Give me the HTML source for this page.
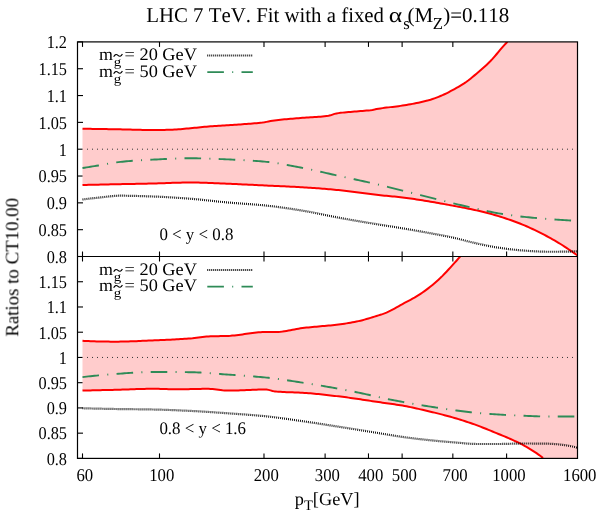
<!DOCTYPE html>
<html><head><meta charset="utf-8"><title>plot</title>
<style>html,body{margin:0;padding:0;background:#fff;}body{width:599px;height:517px;position:relative;overflow:hidden;font-family:"Liberation Serif",serif;}</style></head>
<body>
<svg width="599" height="517" viewBox="0 0 599 517" style="position:absolute;left:0;top:0">
<rect width="599" height="517" fill="#fff"/>
<defs><clipPath id="ct"><rect x="77.5" y="41.9" width="500.0" height="214.6"/></clipPath><clipPath id="cb"><rect x="77.5" y="256.5" width="500.0" height="201.89999999999998"/></clipPath></defs>
<g stroke="#000" stroke-width="1.1" fill="none">
<line x1="82.50" y1="41.9" x2="82.50" y2="46.9"/>
<line x1="82.50" y1="251.5" x2="82.50" y2="261.5"/>
<line x1="82.50" y1="453.4" x2="82.50" y2="458.4"/>
<line x1="159.50" y1="41.9" x2="159.50" y2="46.9"/>
<line x1="159.50" y1="251.5" x2="159.50" y2="261.5"/>
<line x1="159.50" y1="453.4" x2="159.50" y2="458.4"/>
<line x1="263.99" y1="41.9" x2="263.99" y2="46.9"/>
<line x1="263.99" y1="251.5" x2="263.99" y2="261.5"/>
<line x1="263.99" y1="453.4" x2="263.99" y2="458.4"/>
<line x1="325.11" y1="41.9" x2="325.11" y2="46.9"/>
<line x1="325.11" y1="251.5" x2="325.11" y2="261.5"/>
<line x1="325.11" y1="453.4" x2="325.11" y2="458.4"/>
<line x1="368.48" y1="41.9" x2="368.48" y2="46.9"/>
<line x1="368.48" y1="251.5" x2="368.48" y2="261.5"/>
<line x1="368.48" y1="453.4" x2="368.48" y2="458.4"/>
<line x1="402.12" y1="41.9" x2="402.12" y2="46.9"/>
<line x1="402.12" y1="251.5" x2="402.12" y2="261.5"/>
<line x1="402.12" y1="453.4" x2="402.12" y2="458.4"/>
<line x1="452.84" y1="41.9" x2="452.84" y2="46.9"/>
<line x1="452.84" y1="251.5" x2="452.84" y2="261.5"/>
<line x1="452.84" y1="453.4" x2="452.84" y2="458.4"/>
<line x1="506.60" y1="41.9" x2="506.60" y2="46.9"/>
<line x1="506.60" y1="251.5" x2="506.60" y2="261.5"/>
<line x1="506.60" y1="453.4" x2="506.60" y2="458.4"/>
<line x1="577.45" y1="41.9" x2="577.45" y2="46.9"/>
<line x1="577.45" y1="251.5" x2="577.45" y2="261.5"/>
<line x1="577.45" y1="453.4" x2="577.45" y2="458.4"/>
<line x1="77.5" y1="41.90" x2="83.0" y2="41.90"/>
<line x1="77.5" y1="68.72" x2="83.0" y2="68.72"/>
<line x1="77.5" y1="281.74" x2="83.0" y2="281.74"/>
<line x1="77.5" y1="95.55" x2="83.0" y2="95.55"/>
<line x1="77.5" y1="306.98" x2="83.0" y2="306.98"/>
<line x1="77.5" y1="122.38" x2="83.0" y2="122.38"/>
<line x1="77.5" y1="332.21" x2="83.0" y2="332.21"/>
<line x1="77.5" y1="149.20" x2="83.0" y2="149.20"/>
<line x1="77.5" y1="357.45" x2="83.0" y2="357.45"/>
<line x1="77.5" y1="176.03" x2="83.0" y2="176.03"/>
<line x1="77.5" y1="382.69" x2="83.0" y2="382.69"/>
<line x1="77.5" y1="202.85" x2="83.0" y2="202.85"/>
<line x1="77.5" y1="407.92" x2="83.0" y2="407.92"/>
<line x1="77.5" y1="229.68" x2="83.0" y2="229.68"/>
<line x1="77.5" y1="433.16" x2="83.0" y2="433.16"/>
<line x1="77.5" y1="256.50" x2="83.0" y2="256.50"/>
<line x1="77.5" y1="458.40" x2="83.0" y2="458.40"/>
</g>
<path d="M82.50,128.75 L84.50,128.78 L86.50,128.80 L88.50,128.83 L90.50,128.86 L92.50,128.89 L94.50,128.92 L96.50,128.94 L98.50,128.97 L100.50,129.01 L102.50,129.04 L104.50,129.07 L106.50,129.10 L108.50,129.13 L110.50,129.17 L112.50,129.20 L114.50,129.23 L116.50,129.27 L118.50,129.31 L120.50,129.35 L122.50,129.40 L124.50,129.45 L126.50,129.50 L128.50,129.55 L130.50,129.61 L132.50,129.66 L134.50,129.71 L136.50,129.76 L138.50,129.81 L140.50,129.85 L142.50,129.89 L144.50,129.93 L146.50,129.96 L148.50,129.98 L150.50,129.99 L152.50,130.00 L154.50,130.00 L156.50,129.99 L158.50,129.97 L160.50,129.94 L162.50,129.91 L164.50,129.88 L166.50,129.83 L168.50,129.79 L170.50,129.74 L172.50,129.69 L174.50,129.60 L176.50,129.49 L178.50,129.35 L180.50,129.18 L182.50,129.00 L184.50,128.81 L186.50,128.62 L188.50,128.43 L190.50,128.25 L192.50,128.06 L194.50,127.86 L196.50,127.65 L198.50,127.44 L200.50,127.22 L202.50,127.01 L204.50,126.81 L206.50,126.63 L208.50,126.46 L210.50,126.31 L212.50,126.17 L214.50,126.04 L216.50,125.92 L218.50,125.80 L220.50,125.68 L222.50,125.56 L224.50,125.43 L226.50,125.30 L228.50,125.17 L230.50,125.03 L232.50,124.90 L234.50,124.77 L236.50,124.64 L238.50,124.51 L240.50,124.39 L242.50,124.25 L244.50,124.12 L246.50,123.98 L248.50,123.84 L250.50,123.68 L252.50,123.52 L254.50,123.35 L256.50,123.17 L258.50,122.97 L260.50,122.77 L262.50,122.54 L264.50,122.24 L266.50,121.87 L268.50,121.47 L270.50,121.07 L272.50,120.70 L274.50,120.40 L276.50,120.15 L278.50,119.93 L280.50,119.71 L282.50,119.51 L284.50,119.32 L286.50,119.14 L288.50,118.96 L290.50,118.79 L292.50,118.63 L294.50,118.46 L296.50,118.30 L298.50,118.13 L300.50,117.96 L302.50,117.80 L304.50,117.66 L306.50,117.53 L308.50,117.41 L310.50,117.29 L312.50,117.18 L314.50,117.06 L316.50,116.93 L318.50,116.79 L320.50,116.64 L322.50,116.46 L324.50,116.26 L326.50,116.03 L328.50,115.77 L330.50,115.35 L332.50,114.62 L334.50,113.88 L336.50,113.42 L338.50,113.12 L340.50,112.86 L342.50,112.63 L344.50,112.43 L346.50,112.25 L348.50,112.08 L350.50,111.92 L352.50,111.77 L354.50,111.61 L356.50,111.44 L358.50,111.25 L360.50,111.08 L362.50,110.92 L364.50,110.76 L366.50,110.59 L368.50,110.40 L370.50,110.19 L372.50,109.93 L374.50,109.54 L376.50,109.09 L378.50,108.72 L380.50,108.41 L382.50,108.12 L384.50,107.86 L386.50,107.61 L388.50,107.37 L390.50,107.13 L392.50,106.90 L394.50,106.66 L396.50,106.42 L398.50,106.16 L400.50,105.88 L402.50,105.58 L404.50,105.26 L406.50,104.93 L408.50,104.58 L410.50,104.23 L412.50,103.86 L414.50,103.48 L416.50,103.08 L418.50,102.66 L420.50,102.23 L422.50,101.77 L424.50,101.29 L426.50,100.79 L428.50,100.26 L430.50,99.68 L432.50,99.03 L434.50,98.33 L436.50,97.59 L438.50,96.81 L440.50,96.00 L442.50,95.15 L444.50,94.24 L446.50,93.28 L448.50,92.27 L450.50,91.23 L452.50,90.17 L454.50,89.09 L456.50,87.97 L458.50,86.82 L460.50,85.63 L462.50,84.38 L464.50,83.08 L466.50,81.70 L468.50,80.23 L470.50,78.67 L472.50,77.05 L474.50,75.38 L476.50,73.68 L478.50,71.97 L480.50,70.26 L482.50,68.52 L484.50,66.73 L486.50,64.90 L488.50,62.99 L490.50,61.00 L492.50,58.88 L494.50,56.61 L496.50,54.25 L498.50,51.86 L500.50,49.48 L502.50,47.16 L504.50,44.94 L506.50,42.77 L507.40,41.80 L577.50,41.90 L577.50,255.50 L576.50,254.78 L574.50,253.35 L572.50,251.95 L570.50,250.58 L568.50,249.21 L566.50,247.87 L564.50,246.55 L562.50,245.25 L560.50,244.00 L558.50,242.78 L556.50,241.58 L554.50,240.41 L552.50,239.26 L550.50,238.15 L548.50,237.07 L546.50,236.01 L544.50,234.96 L542.50,233.93 L540.50,232.90 L538.50,231.90 L536.50,230.90 L534.50,229.93 L532.50,228.98 L530.50,228.05 L528.50,227.15 L526.50,226.27 L524.50,225.42 L522.50,224.60 L520.50,223.80 L518.50,223.02 L516.50,222.26 L514.50,221.51 L512.50,220.78 L510.50,220.07 L508.50,219.38 L506.50,218.70 L504.50,218.04 L502.50,217.39 L500.50,216.76 L498.50,216.15 L496.50,215.55 L494.50,214.97 L492.50,214.40 L490.50,213.84 L488.50,213.30 L486.50,212.78 L484.50,212.27 L482.50,211.77 L480.50,211.28 L478.50,210.82 L476.50,210.36 L474.50,209.92 L472.50,209.49 L470.50,209.07 L468.50,208.67 L466.50,208.27 L464.50,207.88 L462.50,207.49 L460.50,207.11 L458.50,206.73 L456.50,206.36 L454.50,205.98 L452.50,205.61 L450.50,205.23 L448.50,204.86 L446.50,204.49 L444.50,204.12 L442.50,203.76 L440.50,203.40 L438.50,203.04 L436.50,202.69 L434.50,202.34 L432.50,202.00 L430.50,201.66 L428.50,201.33 L426.50,201.01 L424.50,200.68 L422.50,200.35 L420.50,200.03 L418.50,199.71 L416.50,199.40 L414.50,199.09 L412.50,198.79 L410.50,198.49 L408.50,198.21 L406.50,197.94 L404.50,197.68 L402.50,197.44 L400.50,197.21 L398.50,197.00 L396.50,196.79 L394.50,196.60 L392.50,196.41 L390.50,196.22 L388.50,196.04 L386.50,195.85 L384.50,195.66 L382.50,195.47 L380.50,195.27 L378.50,195.05 L376.50,194.83 L374.50,194.60 L372.50,194.35 L370.50,194.10 L368.50,193.84 L366.50,193.57 L364.50,193.30 L362.50,193.03 L360.50,192.76 L358.50,192.49 L356.50,192.22 L354.50,191.95 L352.50,191.69 L350.50,191.43 L348.50,191.19 L346.50,190.95 L344.50,190.72 L342.50,190.50 L340.50,190.30 L338.50,190.11 L336.50,189.92 L334.50,189.73 L332.50,189.55 L330.50,189.37 L328.50,189.19 L326.50,189.02 L324.50,188.85 L322.50,188.68 L320.50,188.52 L318.50,188.37 L316.50,188.21 L314.50,188.07 L312.50,187.92 L310.50,187.78 L308.50,187.65 L306.50,187.52 L304.50,187.39 L302.50,187.27 L300.50,187.15 L298.50,187.04 L296.50,186.93 L294.50,186.83 L292.50,186.73 L290.50,186.63 L288.50,186.54 L286.50,186.44 L284.50,186.35 L282.50,186.26 L280.50,186.17 L278.50,186.08 L276.50,186.00 L274.50,185.91 L272.50,185.82 L270.50,185.73 L268.50,185.64 L266.50,185.55 L264.50,185.45 L262.50,185.36 L260.50,185.26 L258.50,185.16 L256.50,185.06 L254.50,184.97 L252.50,184.87 L250.50,184.77 L248.50,184.67 L246.50,184.57 L244.50,184.48 L242.50,184.38 L240.50,184.29 L238.50,184.20 L236.50,184.11 L234.50,184.02 L232.50,183.93 L230.50,183.85 L228.50,183.77 L226.50,183.69 L224.50,183.61 L222.50,183.52 L220.50,183.43 L218.50,183.34 L216.50,183.25 L214.50,183.17 L212.50,183.08 L210.50,182.99 L208.50,182.91 L206.50,182.84 L204.50,182.77 L202.50,182.70 L200.50,182.64 L198.50,182.59 L196.50,182.55 L194.50,182.52 L192.50,182.51 L190.50,182.50 L188.50,182.51 L186.50,182.52 L184.50,182.55 L182.50,182.59 L180.50,182.63 L178.50,182.68 L176.50,182.74 L174.50,182.80 L172.50,182.87 L170.50,182.94 L168.50,183.01 L166.50,183.08 L164.50,183.15 L162.50,183.22 L160.50,183.29 L158.50,183.35 L156.50,183.41 L154.50,183.46 L152.50,183.51 L150.50,183.56 L148.50,183.60 L146.50,183.64 L144.50,183.68 L142.50,183.72 L140.50,183.76 L138.50,183.80 L136.50,183.84 L134.50,183.88 L132.50,183.92 L130.50,183.95 L128.50,183.99 L126.50,184.03 L124.50,184.07 L122.50,184.11 L120.50,184.15 L118.50,184.19 L116.50,184.23 L114.50,184.27 L112.50,184.31 L110.50,184.36 L108.50,184.40 L106.50,184.45 L104.50,184.49 L102.50,184.53 L100.50,184.58 L98.50,184.63 L96.50,184.67 L94.50,184.72 L92.50,184.76 L90.50,184.81 L88.50,184.86 L86.50,184.90 L84.50,184.95 L82.50,185.00Z" fill="#ffcccc"/>
<path d="M82.50,340.80 L84.50,340.90 L86.50,341.00 L88.50,341.09 L90.50,341.17 L92.50,341.25 L94.50,341.32 L96.50,341.38 L98.50,341.43 L100.50,341.48 L102.50,341.52 L104.50,341.56 L106.50,341.59 L108.50,341.61 L110.50,341.63 L112.50,341.64 L114.50,341.65 L116.50,341.65 L118.50,341.64 L120.50,341.61 L122.50,341.58 L124.50,341.54 L126.50,341.48 L128.50,341.42 L130.50,341.36 L132.50,341.29 L134.50,341.21 L136.50,341.13 L138.50,341.04 L140.50,340.95 L142.50,340.86 L144.50,340.77 L146.50,340.68 L148.50,340.59 L150.50,340.51 L152.50,340.42 L154.50,340.34 L156.50,340.26 L158.50,340.17 L160.50,340.09 L162.50,340.00 L164.50,339.91 L166.50,339.82 L168.50,339.72 L170.50,339.63 L172.50,339.53 L174.50,339.42 L176.50,339.31 L178.50,339.20 L180.50,339.08 L182.50,338.96 L184.50,338.83 L186.50,338.69 L188.50,338.55 L190.50,338.40 L192.50,338.22 L194.50,337.98 L196.50,337.72 L198.50,337.43 L200.50,337.15 L202.50,336.89 L204.50,336.66 L206.50,336.48 L208.50,336.38 L210.50,336.31 L212.50,336.25 L214.50,336.21 L216.50,336.17 L218.50,336.13 L220.50,336.10 L222.50,336.06 L224.50,336.01 L226.50,335.95 L228.50,335.88 L230.50,335.77 L232.50,335.61 L234.50,335.42 L236.50,335.20 L238.50,334.95 L240.50,334.68 L242.50,334.39 L244.50,334.10 L246.50,333.81 L248.50,333.52 L250.50,333.24 L252.50,332.97 L254.50,332.72 L256.50,332.50 L258.50,332.32 L260.50,332.17 L262.50,332.06 L264.50,332.01 L266.50,332.00 L268.50,332.00 L270.50,332.00 L272.50,332.00 L274.50,332.00 L276.50,331.99 L278.50,331.90 L280.50,331.74 L282.50,331.51 L284.50,331.23 L286.50,330.91 L288.50,330.55 L290.50,330.17 L292.50,329.78 L294.50,329.40 L296.50,329.02 L298.50,328.66 L300.50,328.34 L302.50,328.06 L304.50,327.82 L306.50,327.60 L308.50,327.39 L310.50,327.19 L312.50,327.00 L314.50,326.82 L316.50,326.64 L318.50,326.46 L320.50,326.28 L322.50,326.11 L324.50,325.93 L326.50,325.75 L328.50,325.57 L330.50,325.38 L332.50,325.17 L334.50,324.96 L336.50,324.74 L338.50,324.50 L340.50,324.25 L342.50,323.98 L344.50,323.69 L346.50,323.38 L348.50,323.06 L350.50,322.71 L352.50,322.35 L354.50,321.97 L356.50,321.56 L358.50,321.14 L360.50,320.68 L362.50,320.18 L364.50,319.64 L366.50,319.07 L368.50,318.47 L370.50,317.86 L372.50,317.23 L374.50,316.60 L376.50,315.97 L378.50,315.34 L380.50,314.73 L382.50,314.08 L384.50,313.38 L386.50,312.59 L388.50,311.69 L390.50,310.70 L392.50,309.64 L394.50,308.54 L396.50,307.40 L398.50,306.26 L400.50,305.12 L402.50,304.02 L404.50,302.96 L406.50,301.91 L408.50,300.87 L410.50,299.82 L412.50,298.73 L414.50,297.59 L416.50,296.39 L418.50,295.14 L420.50,293.83 L422.50,292.48 L424.50,291.08 L426.50,289.62 L428.50,288.12 L430.50,286.55 L432.50,284.92 L434.50,283.23 L436.50,281.47 L438.50,279.66 L440.50,277.80 L442.50,275.85 L444.50,273.81 L446.50,271.70 L448.50,269.53 L450.50,267.34 L452.50,265.15 L454.50,262.95 L456.50,260.71 L458.50,258.45 L460.20,256.50 L577.50,256.50 L577.50,458.40 L543.00,458.00 L542.50,457.61 L540.50,456.07 L538.50,454.59 L536.50,453.18 L534.50,451.84 L532.50,450.55 L530.50,449.31 L528.50,448.11 L526.50,446.95 L524.50,445.82 L522.50,444.73 L520.50,443.69 L518.50,442.68 L516.50,441.72 L514.50,440.79 L512.50,439.88 L510.50,438.99 L508.50,438.13 L506.50,437.27 L504.50,436.43 L502.50,435.60 L500.50,434.78 L498.50,433.96 L496.50,433.13 L494.50,432.31 L492.50,431.48 L490.50,430.66 L488.50,429.85 L486.50,429.04 L484.50,428.24 L482.50,427.45 L480.50,426.67 L478.50,425.91 L476.50,425.16 L474.50,424.43 L472.50,423.72 L470.50,423.03 L468.50,422.35 L466.50,421.68 L464.50,421.02 L462.50,420.37 L460.50,419.74 L458.50,419.13 L456.50,418.52 L454.50,417.93 L452.50,417.36 L450.50,416.80 L448.50,416.24 L446.50,415.70 L444.50,415.17 L442.50,414.65 L440.50,414.14 L438.50,413.64 L436.50,413.14 L434.50,412.65 L432.50,412.17 L430.50,411.69 L428.50,411.22 L426.50,410.75 L424.50,410.28 L422.50,409.81 L420.50,409.35 L418.50,408.89 L416.50,408.44 L414.50,408.00 L412.50,407.56 L410.50,407.14 L408.50,406.74 L406.50,406.34 L404.50,405.97 L402.50,405.61 L400.50,405.27 L398.50,404.95 L396.50,404.64 L394.50,404.34 L392.50,404.04 L390.50,403.76 L388.50,403.48 L386.50,403.20 L384.50,402.92 L382.50,402.64 L380.50,402.36 L378.50,402.07 L376.50,401.78 L374.50,401.48 L372.50,401.18 L370.50,400.88 L368.50,400.58 L366.50,400.27 L364.50,399.97 L362.50,399.66 L360.50,399.36 L358.50,399.06 L356.50,398.76 L354.50,398.47 L352.50,398.18 L350.50,397.90 L348.50,397.63 L346.50,397.36 L344.50,397.10 L342.50,396.84 L340.50,396.60 L338.50,396.36 L336.50,396.12 L334.50,395.89 L332.50,395.65 L330.50,395.42 L328.50,395.19 L326.50,394.96 L324.50,394.74 L322.50,394.52 L320.50,394.31 L318.50,394.10 L316.50,393.90 L314.50,393.71 L312.50,393.53 L310.50,393.36 L308.50,393.19 L306.50,393.04 L304.50,392.90 L302.50,392.77 L300.50,392.66 L298.50,392.56 L296.50,392.48 L294.50,392.40 L292.50,392.33 L290.50,392.27 L288.50,392.20 L286.50,392.13 L284.50,392.05 L282.50,391.95 L280.50,391.85 L278.50,391.73 L276.50,391.58 L274.50,391.38 L272.50,390.94 L270.50,390.39 L268.50,389.88 L266.50,389.55 L264.50,389.50 L262.50,389.52 L260.50,389.55 L258.50,389.60 L256.50,389.66 L254.50,389.73 L252.50,389.80 L250.50,389.89 L248.50,389.97 L246.50,390.06 L244.50,390.15 L242.50,390.23 L240.50,390.31 L238.50,390.39 L236.50,390.46 L234.50,390.51 L232.50,390.56 L230.50,390.59 L228.50,390.60 L226.50,390.57 L224.50,390.45 L222.50,390.27 L220.50,390.03 L218.50,389.77 L216.50,389.50 L214.50,389.25 L212.50,389.03 L210.50,388.88 L208.50,388.80 L206.50,388.80 L204.50,388.82 L202.50,388.84 L200.50,388.88 L198.50,388.92 L196.50,388.96 L194.50,389.01 L192.50,389.06 L190.50,389.11 L188.50,389.16 L186.50,389.20 L184.50,389.24 L182.50,389.27 L180.50,389.29 L178.50,389.30 L176.50,389.29 L174.50,389.27 L172.50,389.24 L170.50,389.19 L168.50,389.14 L166.50,389.08 L164.50,389.02 L162.50,388.96 L160.50,388.91 L158.50,388.86 L156.50,388.83 L154.50,388.81 L152.50,388.80 L150.50,388.81 L148.50,388.83 L146.50,388.86 L144.50,388.89 L142.50,388.94 L140.50,388.99 L138.50,389.05 L136.50,389.11 L134.50,389.17 L132.50,389.24 L130.50,389.31 L128.50,389.38 L126.50,389.45 L124.50,389.52 L122.50,389.59 L120.50,389.66 L118.50,389.72 L116.50,389.77 L114.50,389.83 L112.50,389.88 L110.50,389.93 L108.50,389.98 L106.50,390.03 L104.50,390.07 L102.50,390.12 L100.50,390.17 L98.50,390.22 L96.50,390.27 L94.50,390.32 L92.50,390.37 L90.50,390.41 L88.50,390.46 L86.50,390.51 L84.50,390.55 L82.50,390.60Z" fill="#ffcccc"/>
<line x1="87" y1="149.20" x2="577.5" y2="149.20" stroke="#333" stroke-width="1" stroke-dasharray="1 4"/>
<line x1="87" y1="357.45" x2="577.5" y2="357.45" stroke="#333" stroke-width="1" stroke-dasharray="1 4"/>
<path d="M82.50,128.75 L84.50,128.78 L86.50,128.80 L88.50,128.83 L90.50,128.86 L92.50,128.89 L94.50,128.92 L96.50,128.94 L98.50,128.97 L100.50,129.01 L102.50,129.04 L104.50,129.07 L106.50,129.10 L108.50,129.13 L110.50,129.17 L112.50,129.20 L114.50,129.23 L116.50,129.27 L118.50,129.31 L120.50,129.35 L122.50,129.40 L124.50,129.45 L126.50,129.50 L128.50,129.55 L130.50,129.61 L132.50,129.66 L134.50,129.71 L136.50,129.76 L138.50,129.81 L140.50,129.85 L142.50,129.89 L144.50,129.93 L146.50,129.96 L148.50,129.98 L150.50,129.99 L152.50,130.00 L154.50,130.00 L156.50,129.99 L158.50,129.97 L160.50,129.94 L162.50,129.91 L164.50,129.88 L166.50,129.83 L168.50,129.79 L170.50,129.74 L172.50,129.69 L174.50,129.60 L176.50,129.49 L178.50,129.35 L180.50,129.18 L182.50,129.00 L184.50,128.81 L186.50,128.62 L188.50,128.43 L190.50,128.25 L192.50,128.06 L194.50,127.86 L196.50,127.65 L198.50,127.44 L200.50,127.22 L202.50,127.01 L204.50,126.81 L206.50,126.63 L208.50,126.46 L210.50,126.31 L212.50,126.17 L214.50,126.04 L216.50,125.92 L218.50,125.80 L220.50,125.68 L222.50,125.56 L224.50,125.43 L226.50,125.30 L228.50,125.17 L230.50,125.03 L232.50,124.90 L234.50,124.77 L236.50,124.64 L238.50,124.51 L240.50,124.39 L242.50,124.25 L244.50,124.12 L246.50,123.98 L248.50,123.84 L250.50,123.68 L252.50,123.52 L254.50,123.35 L256.50,123.17 L258.50,122.97 L260.50,122.77 L262.50,122.54 L264.50,122.24 L266.50,121.87 L268.50,121.47 L270.50,121.07 L272.50,120.70 L274.50,120.40 L276.50,120.15 L278.50,119.93 L280.50,119.71 L282.50,119.51 L284.50,119.32 L286.50,119.14 L288.50,118.96 L290.50,118.79 L292.50,118.63 L294.50,118.46 L296.50,118.30 L298.50,118.13 L300.50,117.96 L302.50,117.80 L304.50,117.66 L306.50,117.53 L308.50,117.41 L310.50,117.29 L312.50,117.18 L314.50,117.06 L316.50,116.93 L318.50,116.79 L320.50,116.64 L322.50,116.46 L324.50,116.26 L326.50,116.03 L328.50,115.77 L330.50,115.35 L332.50,114.62 L334.50,113.88 L336.50,113.42 L338.50,113.12 L340.50,112.86 L342.50,112.63 L344.50,112.43 L346.50,112.25 L348.50,112.08 L350.50,111.92 L352.50,111.77 L354.50,111.61 L356.50,111.44 L358.50,111.25 L360.50,111.08 L362.50,110.92 L364.50,110.76 L366.50,110.59 L368.50,110.40 L370.50,110.19 L372.50,109.93 L374.50,109.54 L376.50,109.09 L378.50,108.72 L380.50,108.41 L382.50,108.12 L384.50,107.86 L386.50,107.61 L388.50,107.37 L390.50,107.13 L392.50,106.90 L394.50,106.66 L396.50,106.42 L398.50,106.16 L400.50,105.88 L402.50,105.58 L404.50,105.26 L406.50,104.93 L408.50,104.58 L410.50,104.23 L412.50,103.86 L414.50,103.48 L416.50,103.08 L418.50,102.66 L420.50,102.23 L422.50,101.77 L424.50,101.29 L426.50,100.79 L428.50,100.26 L430.50,99.68 L432.50,99.03 L434.50,98.33 L436.50,97.59 L438.50,96.81 L440.50,96.00 L442.50,95.15 L444.50,94.24 L446.50,93.28 L448.50,92.27 L450.50,91.23 L452.50,90.17 L454.50,89.09 L456.50,87.97 L458.50,86.82 L460.50,85.63 L462.50,84.38 L464.50,83.08 L466.50,81.70 L468.50,80.23 L470.50,78.67 L472.50,77.05 L474.50,75.38 L476.50,73.68 L478.50,71.97 L480.50,70.26 L482.50,68.52 L484.50,66.73 L486.50,64.90 L488.50,62.99 L490.50,61.00 L492.50,58.88 L494.50,56.61 L496.50,54.25 L498.50,51.86 L500.50,49.48 L502.50,47.16 L504.50,44.94 L506.50,42.77 L507.40,41.80" fill="none" stroke="#ff0000" stroke-width="2" stroke-linejoin="round" clip-path="url(#ct)"/>
<path d="M82.50,185.00 L84.50,184.95 L86.50,184.90 L88.50,184.86 L90.50,184.81 L92.50,184.76 L94.50,184.72 L96.50,184.67 L98.50,184.63 L100.50,184.58 L102.50,184.53 L104.50,184.49 L106.50,184.45 L108.50,184.40 L110.50,184.36 L112.50,184.31 L114.50,184.27 L116.50,184.23 L118.50,184.19 L120.50,184.15 L122.50,184.11 L124.50,184.07 L126.50,184.03 L128.50,183.99 L130.50,183.95 L132.50,183.92 L134.50,183.88 L136.50,183.84 L138.50,183.80 L140.50,183.76 L142.50,183.72 L144.50,183.68 L146.50,183.64 L148.50,183.60 L150.50,183.56 L152.50,183.51 L154.50,183.46 L156.50,183.41 L158.50,183.35 L160.50,183.29 L162.50,183.22 L164.50,183.15 L166.50,183.08 L168.50,183.01 L170.50,182.94 L172.50,182.87 L174.50,182.80 L176.50,182.74 L178.50,182.68 L180.50,182.63 L182.50,182.59 L184.50,182.55 L186.50,182.52 L188.50,182.51 L190.50,182.50 L192.50,182.51 L194.50,182.52 L196.50,182.55 L198.50,182.59 L200.50,182.64 L202.50,182.70 L204.50,182.77 L206.50,182.84 L208.50,182.91 L210.50,182.99 L212.50,183.08 L214.50,183.17 L216.50,183.25 L218.50,183.34 L220.50,183.43 L222.50,183.52 L224.50,183.61 L226.50,183.69 L228.50,183.77 L230.50,183.85 L232.50,183.93 L234.50,184.02 L236.50,184.11 L238.50,184.20 L240.50,184.29 L242.50,184.38 L244.50,184.48 L246.50,184.57 L248.50,184.67 L250.50,184.77 L252.50,184.87 L254.50,184.97 L256.50,185.06 L258.50,185.16 L260.50,185.26 L262.50,185.36 L264.50,185.45 L266.50,185.55 L268.50,185.64 L270.50,185.73 L272.50,185.82 L274.50,185.91 L276.50,186.00 L278.50,186.08 L280.50,186.17 L282.50,186.26 L284.50,186.35 L286.50,186.44 L288.50,186.54 L290.50,186.63 L292.50,186.73 L294.50,186.83 L296.50,186.93 L298.50,187.04 L300.50,187.15 L302.50,187.27 L304.50,187.39 L306.50,187.52 L308.50,187.65 L310.50,187.78 L312.50,187.92 L314.50,188.07 L316.50,188.21 L318.50,188.37 L320.50,188.52 L322.50,188.68 L324.50,188.85 L326.50,189.02 L328.50,189.19 L330.50,189.37 L332.50,189.55 L334.50,189.73 L336.50,189.92 L338.50,190.11 L340.50,190.30 L342.50,190.50 L344.50,190.72 L346.50,190.95 L348.50,191.19 L350.50,191.43 L352.50,191.69 L354.50,191.95 L356.50,192.22 L358.50,192.49 L360.50,192.76 L362.50,193.03 L364.50,193.30 L366.50,193.57 L368.50,193.84 L370.50,194.10 L372.50,194.35 L374.50,194.60 L376.50,194.83 L378.50,195.05 L380.50,195.27 L382.50,195.47 L384.50,195.66 L386.50,195.85 L388.50,196.04 L390.50,196.22 L392.50,196.41 L394.50,196.60 L396.50,196.79 L398.50,197.00 L400.50,197.21 L402.50,197.44 L404.50,197.68 L406.50,197.94 L408.50,198.21 L410.50,198.49 L412.50,198.79 L414.50,199.09 L416.50,199.40 L418.50,199.71 L420.50,200.03 L422.50,200.35 L424.50,200.68 L426.50,201.01 L428.50,201.33 L430.50,201.66 L432.50,202.00 L434.50,202.34 L436.50,202.69 L438.50,203.04 L440.50,203.40 L442.50,203.76 L444.50,204.12 L446.50,204.49 L448.50,204.86 L450.50,205.23 L452.50,205.61 L454.50,205.98 L456.50,206.36 L458.50,206.73 L460.50,207.11 L462.50,207.49 L464.50,207.88 L466.50,208.27 L468.50,208.67 L470.50,209.07 L472.50,209.49 L474.50,209.92 L476.50,210.36 L478.50,210.82 L480.50,211.28 L482.50,211.77 L484.50,212.27 L486.50,212.78 L488.50,213.30 L490.50,213.84 L492.50,214.40 L494.50,214.97 L496.50,215.55 L498.50,216.15 L500.50,216.76 L502.50,217.39 L504.50,218.04 L506.50,218.70 L508.50,219.38 L510.50,220.07 L512.50,220.78 L514.50,221.51 L516.50,222.26 L518.50,223.02 L520.50,223.80 L522.50,224.60 L524.50,225.42 L526.50,226.27 L528.50,227.15 L530.50,228.05 L532.50,228.98 L534.50,229.93 L536.50,230.90 L538.50,231.90 L540.50,232.90 L542.50,233.93 L544.50,234.96 L546.50,236.01 L548.50,237.07 L550.50,238.15 L552.50,239.26 L554.50,240.41 L556.50,241.58 L558.50,242.78 L560.50,244.00 L562.50,245.25 L564.50,246.55 L566.50,247.87 L568.50,249.21 L570.50,250.58 L572.50,251.95 L574.50,253.35 L576.50,254.78 L577.50,255.50" fill="none" stroke="#ff0000" stroke-width="2" stroke-linejoin="round" clip-path="url(#ct)"/>
<path d="M82.50,340.80 L84.50,340.90 L86.50,341.00 L88.50,341.09 L90.50,341.17 L92.50,341.25 L94.50,341.32 L96.50,341.38 L98.50,341.43 L100.50,341.48 L102.50,341.52 L104.50,341.56 L106.50,341.59 L108.50,341.61 L110.50,341.63 L112.50,341.64 L114.50,341.65 L116.50,341.65 L118.50,341.64 L120.50,341.61 L122.50,341.58 L124.50,341.54 L126.50,341.48 L128.50,341.42 L130.50,341.36 L132.50,341.29 L134.50,341.21 L136.50,341.13 L138.50,341.04 L140.50,340.95 L142.50,340.86 L144.50,340.77 L146.50,340.68 L148.50,340.59 L150.50,340.51 L152.50,340.42 L154.50,340.34 L156.50,340.26 L158.50,340.17 L160.50,340.09 L162.50,340.00 L164.50,339.91 L166.50,339.82 L168.50,339.72 L170.50,339.63 L172.50,339.53 L174.50,339.42 L176.50,339.31 L178.50,339.20 L180.50,339.08 L182.50,338.96 L184.50,338.83 L186.50,338.69 L188.50,338.55 L190.50,338.40 L192.50,338.22 L194.50,337.98 L196.50,337.72 L198.50,337.43 L200.50,337.15 L202.50,336.89 L204.50,336.66 L206.50,336.48 L208.50,336.38 L210.50,336.31 L212.50,336.25 L214.50,336.21 L216.50,336.17 L218.50,336.13 L220.50,336.10 L222.50,336.06 L224.50,336.01 L226.50,335.95 L228.50,335.88 L230.50,335.77 L232.50,335.61 L234.50,335.42 L236.50,335.20 L238.50,334.95 L240.50,334.68 L242.50,334.39 L244.50,334.10 L246.50,333.81 L248.50,333.52 L250.50,333.24 L252.50,332.97 L254.50,332.72 L256.50,332.50 L258.50,332.32 L260.50,332.17 L262.50,332.06 L264.50,332.01 L266.50,332.00 L268.50,332.00 L270.50,332.00 L272.50,332.00 L274.50,332.00 L276.50,331.99 L278.50,331.90 L280.50,331.74 L282.50,331.51 L284.50,331.23 L286.50,330.91 L288.50,330.55 L290.50,330.17 L292.50,329.78 L294.50,329.40 L296.50,329.02 L298.50,328.66 L300.50,328.34 L302.50,328.06 L304.50,327.82 L306.50,327.60 L308.50,327.39 L310.50,327.19 L312.50,327.00 L314.50,326.82 L316.50,326.64 L318.50,326.46 L320.50,326.28 L322.50,326.11 L324.50,325.93 L326.50,325.75 L328.50,325.57 L330.50,325.38 L332.50,325.17 L334.50,324.96 L336.50,324.74 L338.50,324.50 L340.50,324.25 L342.50,323.98 L344.50,323.69 L346.50,323.38 L348.50,323.06 L350.50,322.71 L352.50,322.35 L354.50,321.97 L356.50,321.56 L358.50,321.14 L360.50,320.68 L362.50,320.18 L364.50,319.64 L366.50,319.07 L368.50,318.47 L370.50,317.86 L372.50,317.23 L374.50,316.60 L376.50,315.97 L378.50,315.34 L380.50,314.73 L382.50,314.08 L384.50,313.38 L386.50,312.59 L388.50,311.69 L390.50,310.70 L392.50,309.64 L394.50,308.54 L396.50,307.40 L398.50,306.26 L400.50,305.12 L402.50,304.02 L404.50,302.96 L406.50,301.91 L408.50,300.87 L410.50,299.82 L412.50,298.73 L414.50,297.59 L416.50,296.39 L418.50,295.14 L420.50,293.83 L422.50,292.48 L424.50,291.08 L426.50,289.62 L428.50,288.12 L430.50,286.55 L432.50,284.92 L434.50,283.23 L436.50,281.47 L438.50,279.66 L440.50,277.80 L442.50,275.85 L444.50,273.81 L446.50,271.70 L448.50,269.53 L450.50,267.34 L452.50,265.15 L454.50,262.95 L456.50,260.71 L458.50,258.45 L460.20,256.50" fill="none" stroke="#ff0000" stroke-width="2" stroke-linejoin="round" clip-path="url(#cb)"/>
<path d="M82.50,390.60 L84.50,390.55 L86.50,390.51 L88.50,390.46 L90.50,390.41 L92.50,390.37 L94.50,390.32 L96.50,390.27 L98.50,390.22 L100.50,390.17 L102.50,390.12 L104.50,390.07 L106.50,390.03 L108.50,389.98 L110.50,389.93 L112.50,389.88 L114.50,389.83 L116.50,389.77 L118.50,389.72 L120.50,389.66 L122.50,389.59 L124.50,389.52 L126.50,389.45 L128.50,389.38 L130.50,389.31 L132.50,389.24 L134.50,389.17 L136.50,389.11 L138.50,389.05 L140.50,388.99 L142.50,388.94 L144.50,388.89 L146.50,388.86 L148.50,388.83 L150.50,388.81 L152.50,388.80 L154.50,388.81 L156.50,388.83 L158.50,388.86 L160.50,388.91 L162.50,388.96 L164.50,389.02 L166.50,389.08 L168.50,389.14 L170.50,389.19 L172.50,389.24 L174.50,389.27 L176.50,389.29 L178.50,389.30 L180.50,389.29 L182.50,389.27 L184.50,389.24 L186.50,389.20 L188.50,389.16 L190.50,389.11 L192.50,389.06 L194.50,389.01 L196.50,388.96 L198.50,388.92 L200.50,388.88 L202.50,388.84 L204.50,388.82 L206.50,388.80 L208.50,388.80 L210.50,388.88 L212.50,389.03 L214.50,389.25 L216.50,389.50 L218.50,389.77 L220.50,390.03 L222.50,390.27 L224.50,390.45 L226.50,390.57 L228.50,390.60 L230.50,390.59 L232.50,390.56 L234.50,390.51 L236.50,390.46 L238.50,390.39 L240.50,390.31 L242.50,390.23 L244.50,390.15 L246.50,390.06 L248.50,389.97 L250.50,389.89 L252.50,389.80 L254.50,389.73 L256.50,389.66 L258.50,389.60 L260.50,389.55 L262.50,389.52 L264.50,389.50 L266.50,389.55 L268.50,389.88 L270.50,390.39 L272.50,390.94 L274.50,391.38 L276.50,391.58 L278.50,391.73 L280.50,391.85 L282.50,391.95 L284.50,392.05 L286.50,392.13 L288.50,392.20 L290.50,392.27 L292.50,392.33 L294.50,392.40 L296.50,392.48 L298.50,392.56 L300.50,392.66 L302.50,392.77 L304.50,392.90 L306.50,393.04 L308.50,393.19 L310.50,393.36 L312.50,393.53 L314.50,393.71 L316.50,393.90 L318.50,394.10 L320.50,394.31 L322.50,394.52 L324.50,394.74 L326.50,394.96 L328.50,395.19 L330.50,395.42 L332.50,395.65 L334.50,395.89 L336.50,396.12 L338.50,396.36 L340.50,396.60 L342.50,396.84 L344.50,397.10 L346.50,397.36 L348.50,397.63 L350.50,397.90 L352.50,398.18 L354.50,398.47 L356.50,398.76 L358.50,399.06 L360.50,399.36 L362.50,399.66 L364.50,399.97 L366.50,400.27 L368.50,400.58 L370.50,400.88 L372.50,401.18 L374.50,401.48 L376.50,401.78 L378.50,402.07 L380.50,402.36 L382.50,402.64 L384.50,402.92 L386.50,403.20 L388.50,403.48 L390.50,403.76 L392.50,404.04 L394.50,404.34 L396.50,404.64 L398.50,404.95 L400.50,405.27 L402.50,405.61 L404.50,405.97 L406.50,406.34 L408.50,406.74 L410.50,407.14 L412.50,407.56 L414.50,408.00 L416.50,408.44 L418.50,408.89 L420.50,409.35 L422.50,409.81 L424.50,410.28 L426.50,410.75 L428.50,411.22 L430.50,411.69 L432.50,412.17 L434.50,412.65 L436.50,413.14 L438.50,413.64 L440.50,414.14 L442.50,414.65 L444.50,415.17 L446.50,415.70 L448.50,416.24 L450.50,416.80 L452.50,417.36 L454.50,417.93 L456.50,418.52 L458.50,419.13 L460.50,419.74 L462.50,420.37 L464.50,421.02 L466.50,421.68 L468.50,422.35 L470.50,423.03 L472.50,423.72 L474.50,424.43 L476.50,425.16 L478.50,425.91 L480.50,426.67 L482.50,427.45 L484.50,428.24 L486.50,429.04 L488.50,429.85 L490.50,430.66 L492.50,431.48 L494.50,432.31 L496.50,433.13 L498.50,433.96 L500.50,434.78 L502.50,435.60 L504.50,436.43 L506.50,437.27 L508.50,438.13 L510.50,438.99 L512.50,439.88 L514.50,440.79 L516.50,441.72 L518.50,442.68 L520.50,443.69 L522.50,444.73 L524.50,445.82 L526.50,446.95 L528.50,448.11 L530.50,449.31 L532.50,450.55 L534.50,451.84 L536.50,453.18 L538.50,454.59 L540.50,456.07 L542.50,457.61 L543.00,458.00" fill="none" stroke="#ff0000" stroke-width="2" stroke-linejoin="round" clip-path="url(#cb)"/>
<path d="M82.50,199.50 L84.50,199.25 L86.50,199.01 L88.50,198.77 L90.50,198.53 L92.50,198.30 L94.50,198.08 L96.50,197.86 L98.50,197.65 L100.50,197.45 L102.50,197.23 L104.50,196.99 L106.50,196.75 L108.50,196.52 L110.50,196.29 L112.50,196.09 L114.50,195.92 L116.50,195.80 L118.50,195.72 L120.50,195.70 L122.50,195.71 L124.50,195.72 L126.50,195.75 L128.50,195.78 L130.50,195.81 L132.50,195.86 L134.50,195.91 L136.50,195.96 L138.50,196.02 L140.50,196.08 L142.50,196.14 L144.50,196.21 L146.50,196.28 L148.50,196.34 L150.50,196.41 L152.50,196.48 L154.50,196.55 L156.50,196.63 L158.50,196.72 L160.50,196.81 L162.50,196.91 L164.50,197.01 L166.50,197.12 L168.50,197.24 L170.50,197.36 L172.50,197.48 L174.50,197.61 L176.50,197.74 L178.50,197.88 L180.50,198.02 L182.50,198.16 L184.50,198.31 L186.50,198.45 L188.50,198.60 L190.50,198.75 L192.50,198.91 L194.50,199.07 L196.50,199.25 L198.50,199.44 L200.50,199.64 L202.50,199.84 L204.50,200.05 L206.50,200.26 L208.50,200.48 L210.50,200.70 L212.50,200.92 L214.50,201.13 L216.50,201.35 L218.50,201.56 L220.50,201.77 L222.50,201.98 L224.50,202.17 L226.50,202.36 L228.50,202.54 L230.50,202.72 L232.50,202.88 L234.50,203.04 L236.50,203.19 L238.50,203.34 L240.50,203.49 L242.50,203.63 L244.50,203.78 L246.50,203.92 L248.50,204.07 L250.50,204.21 L252.50,204.37 L254.50,204.52 L256.50,204.68 L258.50,204.85 L260.50,205.02 L262.50,205.21 L264.50,205.40 L266.50,205.60 L268.50,205.82 L270.50,206.04 L272.50,206.28 L274.50,206.52 L276.50,206.78 L278.50,207.04 L280.50,207.31 L282.50,207.59 L284.50,207.88 L286.50,208.17 L288.50,208.47 L290.50,208.77 L292.50,209.08 L294.50,209.39 L296.50,209.70 L298.50,210.02 L300.50,210.35 L302.50,210.67 L304.50,211.00 L306.50,211.34 L308.50,211.70 L310.50,212.07 L312.50,212.44 L314.50,212.83 L316.50,213.23 L318.50,213.63 L320.50,214.03 L322.50,214.44 L324.50,214.85 L326.50,215.26 L328.50,215.67 L330.50,216.07 L332.50,216.47 L334.50,216.87 L336.50,217.25 L338.50,217.63 L340.50,218.00 L342.50,218.36 L344.50,218.72 L346.50,219.07 L348.50,219.43 L350.50,219.78 L352.50,220.12 L354.50,220.47 L356.50,220.81 L358.50,221.15 L360.50,221.49 L362.50,221.83 L364.50,222.16 L366.50,222.50 L368.50,222.83 L370.50,223.16 L372.50,223.49 L374.50,223.82 L376.50,224.15 L378.50,224.48 L380.50,224.81 L382.50,225.13 L384.50,225.45 L386.50,225.76 L388.50,226.08 L390.50,226.39 L392.50,226.71 L394.50,227.02 L396.50,227.34 L398.50,227.66 L400.50,227.99 L402.50,228.32 L404.50,228.65 L406.50,228.99 L408.50,229.33 L410.50,229.68 L412.50,230.02 L414.50,230.37 L416.50,230.73 L418.50,231.08 L420.50,231.44 L422.50,231.80 L424.50,232.16 L426.50,232.53 L428.50,232.89 L430.50,233.26 L432.50,233.62 L434.50,233.99 L436.50,234.35 L438.50,234.72 L440.50,235.09 L442.50,235.47 L444.50,235.85 L446.50,236.25 L448.50,236.65 L450.50,237.06 L452.50,237.49 L454.50,237.94 L456.50,238.41 L458.50,238.91 L460.50,239.43 L462.50,239.96 L464.50,240.48 L466.50,241.01 L468.50,241.52 L470.50,242.02 L472.50,242.49 L474.50,242.94 L476.50,243.38 L478.50,243.83 L480.50,244.27 L482.50,244.70 L484.50,245.13 L486.50,245.54 L488.50,245.95 L490.50,246.33 L492.50,246.70 L494.50,247.05 L496.50,247.37 L498.50,247.67 L500.50,247.96 L502.50,248.25 L504.50,248.52 L506.50,248.79 L508.50,249.04 L510.50,249.29 L512.50,249.52 L514.50,249.74 L516.50,249.95 L518.50,250.14 L520.50,250.31 L522.50,250.46 L524.50,250.61 L526.50,250.75 L528.50,250.89 L530.50,251.03 L532.50,251.16 L534.50,251.28 L536.50,251.40 L538.50,251.50 L540.50,251.59 L542.50,251.66 L544.50,251.71 L546.50,251.74 L548.50,251.75 L550.50,251.75 L552.50,251.75 L554.50,251.74 L556.50,251.74 L558.50,251.73 L560.50,251.71 L562.50,251.69 L564.50,251.66 L566.50,251.63 L568.50,251.58 L570.50,251.53 L572.50,251.46 L574.50,251.39 L576.50,251.30 L577.50,251.25" fill="none" stroke="#000" stroke-width="2.2" stroke-dasharray="0.9 1.1"/>
<path d="M82.50,408.25 L84.50,408.30 L86.50,408.36 L88.50,408.41 L90.50,408.46 L92.50,408.51 L94.50,408.56 L96.50,408.61 L98.50,408.66 L100.50,408.70 L102.50,408.75 L104.50,408.79 L106.50,408.83 L108.50,408.87 L110.50,408.91 L112.50,408.95 L114.50,408.98 L116.50,409.02 L118.50,409.05 L120.50,409.08 L122.50,409.10 L124.50,409.13 L126.50,409.15 L128.50,409.17 L130.50,409.20 L132.50,409.22 L134.50,409.24 L136.50,409.26 L138.50,409.28 L140.50,409.31 L142.50,409.33 L144.50,409.36 L146.50,409.39 L148.50,409.42 L150.50,409.45 L152.50,409.49 L154.50,409.53 L156.50,409.58 L158.50,409.63 L160.50,409.68 L162.50,409.74 L164.50,409.81 L166.50,409.88 L168.50,409.95 L170.50,410.02 L172.50,410.10 L174.50,410.18 L176.50,410.27 L178.50,410.35 L180.50,410.44 L182.50,410.53 L184.50,410.62 L186.50,410.71 L188.50,410.81 L190.50,410.90 L192.50,411.00 L194.50,411.10 L196.50,411.21 L198.50,411.32 L200.50,411.44 L202.50,411.56 L204.50,411.68 L206.50,411.81 L208.50,411.94 L210.50,412.07 L212.50,412.21 L214.50,412.35 L216.50,412.49 L218.50,412.63 L220.50,412.77 L222.50,412.91 L224.50,413.05 L226.50,413.19 L228.50,413.34 L230.50,413.48 L232.50,413.62 L234.50,413.76 L236.50,413.90 L238.50,414.04 L240.50,414.18 L242.50,414.33 L244.50,414.47 L246.50,414.62 L248.50,414.78 L250.50,414.93 L252.50,415.09 L254.50,415.25 L256.50,415.42 L258.50,415.60 L260.50,415.78 L262.50,415.96 L264.50,416.15 L266.50,416.35 L268.50,416.56 L270.50,416.78 L272.50,417.01 L274.50,417.26 L276.50,417.51 L278.50,417.77 L280.50,418.03 L282.50,418.30 L284.50,418.58 L286.50,418.86 L288.50,419.15 L290.50,419.44 L292.50,419.73 L294.50,420.02 L296.50,420.31 L298.50,420.60 L300.50,420.89 L302.50,421.18 L304.50,421.47 L306.50,421.75 L308.50,422.05 L310.50,422.34 L312.50,422.64 L314.50,422.95 L316.50,423.25 L318.50,423.56 L320.50,423.87 L322.50,424.18 L324.50,424.49 L326.50,424.80 L328.50,425.11 L330.50,425.43 L332.50,425.74 L334.50,426.06 L336.50,426.37 L338.50,426.69 L340.50,427.00 L342.50,427.31 L344.50,427.63 L346.50,427.95 L348.50,428.26 L350.50,428.58 L352.50,428.90 L354.50,429.22 L356.50,429.54 L358.50,429.86 L360.50,430.19 L362.50,430.51 L364.50,430.83 L366.50,431.15 L368.50,431.47 L370.50,431.80 L372.50,432.12 L374.50,432.44 L376.50,432.76 L378.50,433.08 L380.50,433.41 L382.50,433.74 L384.50,434.07 L386.50,434.40 L388.50,434.74 L390.50,435.07 L392.50,435.40 L394.50,435.72 L396.50,436.04 L398.50,436.35 L400.50,436.65 L402.50,436.93 L404.50,437.20 L406.50,437.47 L408.50,437.73 L410.50,437.99 L412.50,438.24 L414.50,438.48 L416.50,438.72 L418.50,438.96 L420.50,439.19 L422.50,439.41 L424.50,439.63 L426.50,439.84 L428.50,440.05 L430.50,440.26 L432.50,440.46 L434.50,440.66 L436.50,440.85 L438.50,441.04 L440.50,441.23 L442.50,441.41 L444.50,441.59 L446.50,441.77 L448.50,441.94 L450.50,442.10 L452.50,442.26 L454.50,442.42 L456.50,442.59 L458.50,442.77 L460.50,442.95 L462.50,443.14 L464.50,443.31 L466.50,443.48 L468.50,443.63 L470.50,443.76 L472.50,443.86 L474.50,443.94 L476.50,443.99 L478.50,444.00 L480.50,444.00 L482.50,444.00 L484.50,444.00 L486.50,444.00 L488.50,444.00 L490.50,444.00 L492.50,444.00 L494.50,444.00 L496.50,444.00 L498.50,444.00 L500.50,443.99 L502.50,443.96 L504.50,443.92 L506.50,443.87 L508.50,443.81 L510.50,443.75 L512.50,443.69 L514.50,443.63 L516.50,443.58 L518.50,443.54 L520.50,443.51 L522.50,443.50 L524.50,443.50 L526.50,443.50 L528.50,443.51 L530.50,443.52 L532.50,443.53 L534.50,443.54 L536.50,443.56 L538.50,443.58 L540.50,443.60 L542.50,443.62 L544.50,443.65 L546.50,443.68 L548.50,443.71 L550.50,443.78 L552.50,443.89 L554.50,444.04 L556.50,444.21 L558.50,444.40 L560.50,444.60 L562.50,444.82 L564.50,445.08 L566.50,445.39 L568.50,445.73 L570.50,446.10 L572.50,446.54 L574.50,447.04 L576.50,447.60 L577.50,447.90" fill="none" stroke="#000" stroke-width="2.2" stroke-dasharray="0.9 1.1"/>
<path d="M82.50,168.00 L84.50,167.69 L86.50,167.38 L88.50,167.07 L90.50,166.75 L92.50,166.43 L94.50,166.11 L96.50,165.78 L98.50,165.45 L100.50,165.12 L102.50,164.76 L104.50,164.39 L106.50,164.01 L108.50,163.63 L110.50,163.27 L112.50,162.93 L114.50,162.63 L116.50,162.38 L118.50,162.14 L120.50,161.91 L122.50,161.69 L124.50,161.49 L126.50,161.29 L128.50,161.11 L130.50,160.94 L132.50,160.78 L134.50,160.64 L136.50,160.50 L138.50,160.37 L140.50,160.24 L142.50,160.13 L144.50,160.02 L146.50,159.91 L148.50,159.81 L150.50,159.71 L152.50,159.62 L154.50,159.53 L156.50,159.44 L158.50,159.34 L160.50,159.24 L162.50,159.15 L164.50,159.05 L166.50,158.95 L168.50,158.86 L170.50,158.77 L172.50,158.68 L174.50,158.60 L176.50,158.53 L178.50,158.46 L180.50,158.40 L182.50,158.35 L184.50,158.31 L186.50,158.28 L188.50,158.26 L190.50,158.25 L192.50,158.26 L194.50,158.27 L196.50,158.30 L198.50,158.33 L200.50,158.37 L202.50,158.42 L204.50,158.48 L206.50,158.54 L208.50,158.61 L210.50,158.68 L212.50,158.75 L214.50,158.83 L216.50,158.91 L218.50,159.00 L220.50,159.08 L222.50,159.17 L224.50,159.25 L226.50,159.34 L228.50,159.42 L230.50,159.51 L232.50,159.59 L234.50,159.69 L236.50,159.78 L238.50,159.88 L240.50,159.99 L242.50,160.09 L244.50,160.21 L246.50,160.33 L248.50,160.45 L250.50,160.58 L252.50,160.71 L254.50,160.86 L256.50,161.00 L258.50,161.16 L260.50,161.32 L262.50,161.49 L264.50,161.66 L266.50,161.84 L268.50,162.05 L270.50,162.29 L272.50,162.54 L274.50,162.82 L276.50,163.12 L278.50,163.43 L280.50,163.76 L282.50,164.10 L284.50,164.46 L286.50,164.82 L288.50,165.20 L290.50,165.58 L292.50,165.96 L294.50,166.35 L296.50,166.74 L298.50,167.13 L300.50,167.52 L302.50,167.90 L304.50,168.29 L306.50,168.68 L308.50,169.09 L310.50,169.50 L312.50,169.93 L314.50,170.36 L316.50,170.80 L318.50,171.25 L320.50,171.70 L322.50,172.15 L324.50,172.61 L326.50,173.07 L328.50,173.53 L330.50,173.99 L332.50,174.45 L334.50,174.91 L336.50,175.36 L338.50,175.81 L340.50,176.25 L342.50,176.69 L344.50,177.12 L346.50,177.56 L348.50,177.99 L350.50,178.42 L352.50,178.85 L354.50,179.28 L356.50,179.71 L358.50,180.14 L360.50,180.58 L362.50,181.01 L364.50,181.45 L366.50,181.89 L368.50,182.33 L370.50,182.78 L372.50,183.23 L374.50,183.69 L376.50,184.15 L378.50,184.62 L380.50,185.09 L382.50,185.58 L384.50,186.07 L386.50,186.57 L388.50,187.07 L390.50,187.58 L392.50,188.09 L394.50,188.60 L396.50,189.11 L398.50,189.62 L400.50,190.12 L402.50,190.62 L404.50,191.12 L406.50,191.62 L408.50,192.12 L410.50,192.62 L412.50,193.12 L414.50,193.62 L416.50,194.12 L418.50,194.62 L420.50,195.12 L422.50,195.62 L424.50,196.12 L426.50,196.62 L428.50,197.13 L430.50,197.63 L432.50,198.13 L434.50,198.64 L436.50,199.14 L438.50,199.65 L440.50,200.16 L442.50,200.66 L444.50,201.16 L446.50,201.66 L448.50,202.16 L450.50,202.65 L452.50,203.13 L454.50,203.61 L456.50,204.08 L458.50,204.56 L460.50,205.03 L462.50,205.49 L464.50,205.95 L466.50,206.41 L468.50,206.87 L470.50,207.32 L472.50,207.78 L474.50,208.22 L476.50,208.67 L478.50,209.11 L480.50,209.56 L482.50,210.01 L484.50,210.47 L486.50,210.92 L488.50,211.36 L490.50,211.79 L492.50,212.21 L494.50,212.61 L496.50,212.99 L498.50,213.33 L500.50,213.67 L502.50,213.99 L504.50,214.31 L506.50,214.61 L508.50,214.90 L510.50,215.19 L512.50,215.46 L514.50,215.73 L516.50,215.99 L518.50,216.23 L520.50,216.47 L522.50,216.69 L524.50,216.91 L526.50,217.12 L528.50,217.32 L530.50,217.52 L532.50,217.71 L534.50,217.89 L536.50,218.07 L538.50,218.24 L540.50,218.41 L542.50,218.57 L544.50,218.73 L546.50,218.88 L548.50,219.04 L550.50,219.19 L552.50,219.34 L554.50,219.49 L556.50,219.63 L558.50,219.77 L560.50,219.91 L562.50,220.04 L564.50,220.16 L566.50,220.28 L568.50,220.40 L570.50,220.50 L572.50,220.60 L574.50,220.68 L576.50,220.76 L577.50,220.80" fill="none" stroke="#2e8b57" stroke-width="1.9" stroke-dasharray="16.6 8.3 1.0 8.3"/>
<path d="M82.50,377.09 L84.50,376.86 L86.50,376.64 L88.50,376.42 L90.50,376.20 L92.50,375.99 L94.50,375.78 L96.50,375.58 L98.50,375.38 L100.50,375.19 L102.50,375.00 L104.50,374.82 L106.50,374.65 L108.50,374.48 L110.50,374.32 L112.50,374.17 L114.50,374.02 L116.50,373.88 L118.50,373.74 L120.50,373.59 L122.50,373.45 L124.50,373.30 L126.50,373.16 L128.50,373.01 L130.50,372.87 L132.50,372.74 L134.50,372.61 L136.50,372.49 L138.50,372.38 L140.50,372.28 L142.50,372.19 L144.50,372.11 L146.50,372.05 L148.50,372.00 L150.50,371.96 L152.50,371.95 L154.50,371.95 L156.50,371.95 L158.50,371.96 L160.50,371.96 L162.50,371.97 L164.50,371.98 L166.50,371.99 L168.50,372.00 L170.50,372.01 L172.50,372.02 L174.50,372.04 L176.50,372.06 L178.50,372.07 L180.50,372.09 L182.50,372.11 L184.50,372.13 L186.50,372.15 L188.50,372.18 L190.50,372.20 L192.50,372.23 L194.50,372.29 L196.50,372.36 L198.50,372.45 L200.50,372.55 L202.50,372.66 L204.50,372.79 L206.50,372.93 L208.50,373.07 L210.50,373.22 L212.50,373.38 L214.50,373.54 L216.50,373.70 L218.50,373.87 L220.50,374.03 L222.50,374.19 L224.50,374.34 L226.50,374.49 L228.50,374.63 L230.50,374.77 L232.50,374.91 L234.50,375.05 L236.50,375.19 L238.50,375.33 L240.50,375.46 L242.50,375.60 L244.50,375.75 L246.50,375.89 L248.50,376.04 L250.50,376.19 L252.50,376.35 L254.50,376.51 L256.50,376.68 L258.50,376.85 L260.50,377.03 L262.50,377.21 L264.50,377.40 L266.50,377.60 L268.50,377.81 L270.50,378.04 L272.50,378.28 L274.50,378.53 L276.50,378.79 L278.50,379.06 L280.50,379.33 L282.50,379.62 L284.50,379.91 L286.50,380.21 L288.50,380.51 L290.50,380.81 L292.50,381.12 L294.50,381.43 L296.50,381.74 L298.50,382.05 L300.50,382.36 L302.50,382.67 L304.50,382.98 L306.50,383.29 L308.50,383.61 L310.50,383.92 L312.50,384.24 L314.50,384.57 L316.50,384.90 L318.50,385.23 L320.50,385.56 L322.50,385.90 L324.50,386.24 L326.50,386.59 L328.50,386.94 L330.50,387.29 L332.50,387.64 L334.50,388.00 L336.50,388.37 L338.50,388.73 L340.50,389.10 L342.50,389.47 L344.50,389.85 L346.50,390.23 L348.50,390.62 L350.50,391.01 L352.50,391.40 L354.50,391.80 L356.50,392.21 L358.50,392.62 L360.50,393.04 L362.50,393.46 L364.50,393.88 L366.50,394.32 L368.50,394.76 L370.50,395.20 L372.50,395.67 L374.50,396.16 L376.50,396.65 L378.50,397.11 L380.50,397.55 L382.50,397.98 L384.50,398.40 L386.50,398.81 L388.50,399.22 L390.50,399.62 L392.50,400.01 L394.50,400.40 L396.50,400.78 L398.50,401.16 L400.50,401.54 L402.50,401.91 L404.50,402.27 L406.50,402.64 L408.50,402.99 L410.50,403.34 L412.50,403.69 L414.50,404.03 L416.50,404.37 L418.50,404.70 L420.50,405.04 L422.50,405.36 L424.50,405.69 L426.50,406.01 L428.50,406.33 L430.50,406.65 L432.50,406.96 L434.50,407.28 L436.50,407.59 L438.50,407.89 L440.50,408.20 L442.50,408.50 L444.50,408.80 L446.50,409.09 L448.50,409.37 L450.50,409.66 L452.50,409.93 L454.50,410.20 L456.50,410.48 L458.50,410.75 L460.50,411.02 L462.50,411.28 L464.50,411.54 L466.50,411.78 L468.50,412.02 L470.50,412.24 L472.50,412.45 L474.50,412.65 L476.50,412.84 L478.50,413.02 L480.50,413.20 L482.50,413.37 L484.50,413.53 L486.50,413.69 L488.50,413.85 L490.50,414.00 L492.50,414.14 L494.50,414.28 L496.50,414.41 L498.50,414.53 L500.50,414.65 L502.50,414.77 L504.50,414.88 L506.50,414.99 L508.50,415.10 L510.50,415.20 L512.50,415.30 L514.50,415.39 L516.50,415.48 L518.50,415.57 L520.50,415.65 L522.50,415.73 L524.50,415.81 L526.50,415.89 L528.50,415.97 L530.50,416.05 L532.50,416.13 L534.50,416.21 L536.50,416.28 L538.50,416.34 L540.50,416.40 L542.50,416.44 L544.50,416.48 L546.50,416.50 L548.50,416.50 L550.50,416.50 L552.50,416.50 L554.50,416.50 L556.50,416.50 L558.50,416.50 L560.50,416.50 L562.50,416.50 L564.50,416.50 L566.50,416.50 L568.50,416.50 L570.50,416.50 L572.50,416.50 L574.50,416.50 L576.50,416.50 L577.50,416.50" fill="none" stroke="#2e8b57" stroke-width="1.9" stroke-dasharray="16.6 8.3 1.0 8.3"/>
<g stroke="#000" stroke-width="1.2" fill="none">
<rect x="77.5" y="41.9" width="500.0" height="416.5"/>
<line x1="77.5" y1="256.5" x2="577.5" y2="256.5"/>
</g>
<line x1="207.3" y1="55.5" x2="252.8" y2="55.5" stroke="#000" stroke-width="2.2" stroke-dasharray="0.9 1.1"/>
<line x1="207.3" y1="72.1" x2="252.8" y2="72.1" stroke="#2e8b57" stroke-width="1.9" stroke-dasharray="16.6 8.3 1.0 8.3"/>
<line x1="207.3" y1="270.0" x2="252.8" y2="270.0" stroke="#000" stroke-width="2.2" stroke-dasharray="0.9 1.1"/>
<line x1="207.3" y1="286.6" x2="252.8" y2="286.6" stroke="#2e8b57" stroke-width="1.9" stroke-dasharray="16.6 8.3 1.0 8.3"/>
<g font-family="Liberation Serif, serif" fill="#000" style="font-kerning:none;text-rendering:geometricPrecision" opacity="0.999">
<text transform="translate(67.00,48.20) scale(0.905,1)" font-size="18.0" text-anchor="end" >1.2</text>
<text transform="translate(67.00,75.02) scale(0.905,1)" font-size="18.0" text-anchor="end" >1.15</text>
<text transform="translate(67.00,288.04) scale(0.905,1)" font-size="18.0" text-anchor="end" >1.15</text>
<text transform="translate(67.00,101.85) scale(0.905,1)" font-size="18.0" text-anchor="end" >1.1</text>
<text transform="translate(67.00,313.28) scale(0.905,1)" font-size="18.0" text-anchor="end" >1.1</text>
<text transform="translate(67.00,128.68) scale(0.905,1)" font-size="18.0" text-anchor="end" >1.05</text>
<text transform="translate(67.00,338.51) scale(0.905,1)" font-size="18.0" text-anchor="end" >1.05</text>
<text transform="translate(67.00,155.50) scale(0.905,1)" font-size="18.0" text-anchor="end" >1</text>
<text transform="translate(67.00,363.75) scale(0.905,1)" font-size="18.0" text-anchor="end" >1</text>
<text transform="translate(67.00,182.33) scale(0.905,1)" font-size="18.0" text-anchor="end" >0.95</text>
<text transform="translate(67.00,388.99) scale(0.905,1)" font-size="18.0" text-anchor="end" >0.95</text>
<text transform="translate(67.00,209.15) scale(0.905,1)" font-size="18.0" text-anchor="end" >0.9</text>
<text transform="translate(67.00,414.22) scale(0.905,1)" font-size="18.0" text-anchor="end" >0.9</text>
<text transform="translate(67.00,235.98) scale(0.905,1)" font-size="18.0" text-anchor="end" >0.85</text>
<text transform="translate(67.00,439.46) scale(0.905,1)" font-size="18.0" text-anchor="end" >0.85</text>
<text transform="translate(67.00,262.80) scale(0.905,1)" font-size="18.0" text-anchor="end" >0.8</text>
<text transform="translate(67.00,464.70) scale(0.905,1)" font-size="18.0" text-anchor="end" >0.8</text>
<text transform="translate(84.80,481.30) scale(0.93,1)" font-size="18.0" text-anchor="middle" >60</text>
<text transform="translate(161.80,481.30) scale(0.93,1)" font-size="18.0" text-anchor="middle" >100</text>
<text transform="translate(266.29,481.30) scale(0.93,1)" font-size="18.0" text-anchor="middle" >200</text>
<text transform="translate(327.41,481.30) scale(0.93,1)" font-size="18.0" text-anchor="middle" >300</text>
<text transform="translate(370.78,481.30) scale(0.93,1)" font-size="18.0" text-anchor="middle" >400</text>
<text transform="translate(404.42,481.30) scale(0.93,1)" font-size="18.0" text-anchor="middle" >500</text>
<text transform="translate(455.14,481.30) scale(0.93,1)" font-size="18.0" text-anchor="middle" >700</text>
<text transform="translate(508.90,481.30) scale(0.93,1)" font-size="18.0" text-anchor="middle" >1000</text>
<text transform="translate(579.75,481.30) scale(0.93,1)" font-size="18.0" text-anchor="middle" >1600</text>
<text transform="translate(146.20,22.00) scale(0.992,1)" font-size="21" text-anchor="start" >LHC 7 TeV. Fit with a fixed</text>
<text transform="translate(388.80,22.00) scale(1.22,1)" font-size="21" text-anchor="start" >α</text>
<text transform="translate(403.30,29.20) scale(1.0,1)" font-size="16.8" text-anchor="start" >s</text>
<text transform="translate(407.50,22.00) scale(1.0,1)" font-size="21" text-anchor="start" >(M</text>
<text transform="translate(432.70,28.70) scale(1.0,1)" font-size="16.8" text-anchor="start" >Z</text>
<text transform="translate(443.20,22.00) scale(1.0,1)" font-size="21" text-anchor="start" >)=0.118</text>
<text x="294.8" y="504.7" font-size="18.3">p<tspan font-size="14.6" dy="5.7">T</tspan><tspan dy="-5.7">[GeV]</tspan></text>
<text transform="translate(18.3,267.4) rotate(-90)" font-size="18.85" text-anchor="middle">Ratios to CT10.00</text>
<text transform="translate(159.40,240.40) scale(0.955,1)" font-size="17.7" text-anchor="start" >0 &lt; y &lt; 0.8</text>
<text transform="translate(159.40,433.70) scale(0.955,1)" font-size="17.7" text-anchor="start" >0.8 &lt; y &lt; 1.6</text>
<text transform="translate(98.90,60.10) scale(1.02,1)" font-size="17.6" text-anchor="start" >m</text>
<text transform="translate(113.80,65.70) scale(1.15,1)" font-size="13.0" text-anchor="start" >g</text>
<path d="M113.7,56.70 C115,54.10 116.6,54.10 118,55.40 C119.4,56.70 121,56.70 122.4,54.10" fill="none" stroke="#000" stroke-width="1.15"/>
<text transform="translate(124.60,60.10) scale(1.04,1)" font-size="17.6" text-anchor="start" >= 20 GeV</text>
<text transform="translate(98.90,77.10) scale(1.02,1)" font-size="17.6" text-anchor="start" >m</text>
<text transform="translate(113.80,82.70) scale(1.15,1)" font-size="13.0" text-anchor="start" >g</text>
<path d="M113.7,73.70 C115,71.10 116.6,71.10 118,72.40 C119.4,73.70 121,73.70 122.4,71.10" fill="none" stroke="#000" stroke-width="1.15"/>
<text transform="translate(124.60,77.10) scale(1.04,1)" font-size="17.6" text-anchor="start" >= 50 GeV</text>
<text transform="translate(98.90,275.10) scale(1.02,1)" font-size="17.6" text-anchor="start" >m</text>
<text transform="translate(113.80,280.70) scale(1.15,1)" font-size="13.0" text-anchor="start" >g</text>
<path d="M113.7,271.70 C115,269.10 116.6,269.10 118,270.40 C119.4,271.70 121,271.70 122.4,269.10" fill="none" stroke="#000" stroke-width="1.15"/>
<text transform="translate(124.60,275.10) scale(1.04,1)" font-size="17.6" text-anchor="start" >= 20 GeV</text>
<text transform="translate(98.90,291.10) scale(1.02,1)" font-size="17.6" text-anchor="start" >m</text>
<text transform="translate(113.80,296.70) scale(1.15,1)" font-size="13.0" text-anchor="start" >g</text>
<path d="M113.7,287.70 C115,285.10 116.6,285.10 118,286.40 C119.4,287.70 121,287.70 122.4,285.10" fill="none" stroke="#000" stroke-width="1.15"/>
<text transform="translate(124.60,291.10) scale(1.04,1)" font-size="17.6" text-anchor="start" >= 50 GeV</text>
</g>
</svg>
</body></html>
